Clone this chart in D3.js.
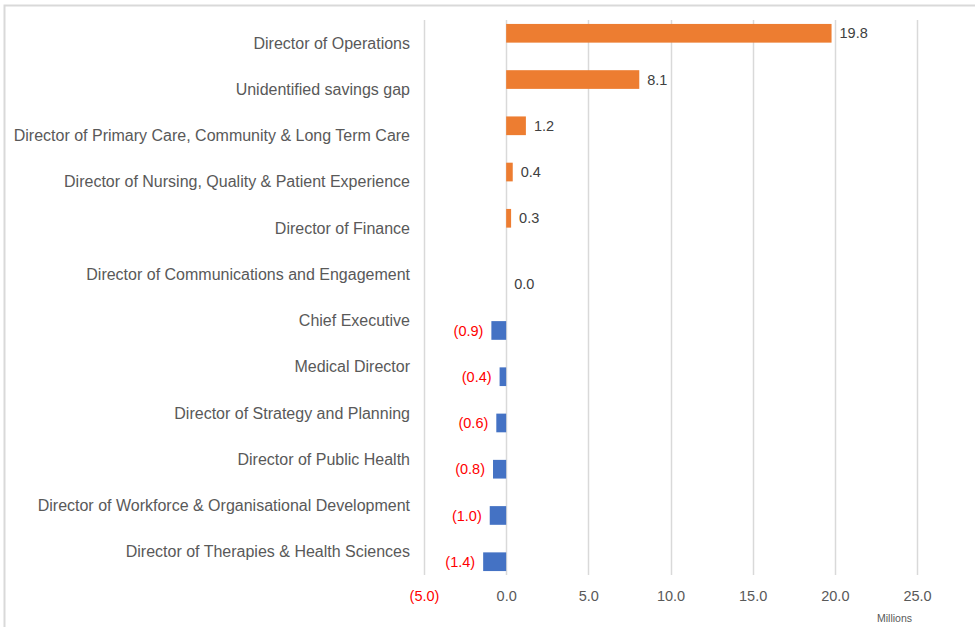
<!DOCTYPE html>
<html>
<head>
<meta charset="utf-8">
<script src="https://cdn.jsdelivr.net/npm/d3@7"></script>
<style>
  body { margin: 0; background: #fff; }
  svg { font-family: "Liberation Sans", Arial, sans-serif; }
  .cat { font-size: 16px; fill: #595959; }
  .tick text { font-size: 14.5px; fill: #595959; }
  .val { font-size: 14.5px; }
</style>
</head>
<body>
<div id="chart"></div>
<script>
// categories, top to bottom
var categories = [
  "Director of Operations",
  "Unidentified savings gap",
  "Director of Primary Care, Community & Long Term Care",
  "Director of Nursing, Quality & Patient Experience",
  "Director of Finance",
  "Director of Communications and Engagement",
  "Chief Executive",
  "Medical Director",
  "Director of Strategy and Planning",
  "Director of Public Health",
  "Director of Workforce & Organisational Development",
  "Director of Therapies & Health Sciences"
];
// £ millions
var values = [19.8, 8.1, 1.2, 0.4, 0.3, 0.0, -0.9, -0.4, -0.6, -0.8, -1.0, -1.4];
// which series each category sits in: increase (orange) or decrease (blue)
var series = ["inc", "inc", "inc", "inc", "inc", "dec", "dec", "dec", "dec", "dec", "dec", "dec"];
var xTicks = [-5, 0, 5, 10, 15, 20, 25];

var W = 975, H = 627;
var plotL = 424, plotR = 917, plotT = 20, plotB = 575;

var svg = d3.select("#chart").append("svg")
  .attr("width", W)
  .attr("height", H);

// chart border (cropped)
svg.append("path")
  .attr("d", "M4.5," + H + "V5.5H" + W)
  .attr("fill", "none")
  .attr("stroke", "#d9d9d9")
  .attr("stroke-width", 2);

var x = d3.scaleLinear().domain([-5, 25]).range([plotL, plotR]);
var y = d3.scaleBand().domain(categories).range([plotT, plotB]);
var sub = d3.scaleBand().domain(["inc", "dec"]).range([0, y.bandwidth()])
  .paddingInner(0.05).paddingOuter(0.2);

var fmt = function(v) {
  var s = d3.format(".1f")(Math.abs(v));
  return v < 0 ? "(" + s + ")" : s;
};

// gridlines
svg.append("g").selectAll("line")
  .data(xTicks)
  .enter().append("line")
    .attr("x1", function(d) { return Math.round(x(d)) + 0.5; })
    .attr("x2", function(d) { return Math.round(x(d)) + 0.5; })
    .attr("y1", plotT)
    .attr("y2", plotB)
    .attr("stroke", "#d9d9d9")
    .attr("stroke-width", 1.5);

// x axis labels
var xAxis = d3.axisBottom(x)
  .tickValues(xTicks)
  .tickSize(0)
  .tickPadding(16)
  .tickFormat(fmt);

var ax = svg.append("g")
  .attr("transform", "translate(0," + plotB + ")")
  .call(xAxis);
ax.select(".domain").remove();
ax.selectAll(".tick text")
  .style("fill", function(d) { return d < 0 ? "#ff0000" : "#595959"; });

svg.append("text")
  .attr("x", 912)
  .attr("y", 622)
  .attr("text-anchor", "end")
  .style("font-size", "10.5px")
  .style("fill", "#595959")
  .text("Millions");

// category labels
svg.append("g").selectAll("text")
  .data(categories)
  .enter().append("text")
    .attr("class", "cat")
    .attr("x", 410)
    .attr("y", function(d) { return y(d) + y.bandwidth() / 2; })
    .attr("dy", "0.35em")
    .attr("text-anchor", "end")
    .text(function(d) { return d; });

var rows = categories.map(function(c, i) {
  return { cat: c, value: values[i], s: series[i] };
});

// bars
svg.append("g").selectAll("rect")
  .data(rows)
  .enter().append("rect")
    .attr("x", function(d) { return x(Math.min(0, d.value)); })
    .attr("width", function(d) { return Math.abs(x(d.value) - x(0)); })
    .attr("y", function(d) { return y(d.cat) + sub(d.s); })
    .attr("height", sub.bandwidth())
    .attr("fill", function(d) { return d.s === "inc" ? "#ed7d31" : "#4472c4"; });

// value labels
svg.append("g").selectAll("text")
  .data(rows)
  .enter().append("text")
    .attr("class", "val")
    .attr("x", function(d) { return d.value < 0 ? x(d.value) - 8 : x(d.value) + 8; })
    .attr("y", function(d) { return y(d.cat) + sub(d.s) + sub.bandwidth() / 2; })
    .attr("dy", "0.35em")
    .attr("text-anchor", function(d) { return d.value < 0 ? "end" : "start"; })
    .style("fill", function(d) { return d.value < 0 ? "#ff0000" : "#404040"; })
    .text(function(d) { return fmt(d.value); });
</script>
</body>
</html>
